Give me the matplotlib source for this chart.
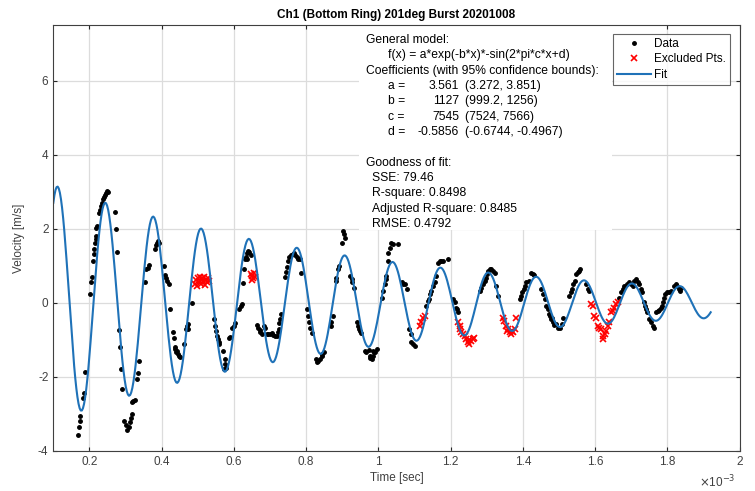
import numpy as np
import matplotlib.pyplot as plt

plt.rcParams['font.family'] = ['Liberation Sans', 'DejaVu Sans']
plt.rcParams['axes.unicode_minus'] = False

# time in ms (axis shows x 10^-3 s), velocity in m/s
data_t = [0.168, 0.171, 0.173, 0.175, 0.181, 0.184, 0.189,
          0.201, 0.205, 0.207, 0.209, 0.212, 0.214, 0.215, 0.218, 0.218, 0.219, 0.222, 0.226, 0.229,
          0.232, 0.235, 0.238, 0.241, 0.242, 0.246, 0.249, 0.252, 0.271, 0.273, 0.276,
          0.283, 0.286, 0.288, 0.291,
          0.297, 0.302, 0.305, 0.309, 0.311, 0.315, 0.317, 0.319, 0.322, 0.325, 0.332, 0.334, 0.338,
          0.355, 0.357, 0.361, 0.364, 0.381, 0.384, 0.387, 0.391, 0.394,
          0.407, 0.409, 0.413, 0.416, 0.419, 0.423,
          0.431, 0.433, 0.436, 0.438, 0.440, 0.442, 0.444, 0.448, 0.450,
          0.463, 0.467, 0.470, 0.473, 0.474, 0.485,
          0.546, 0.548, 0.550, 0.553, 0.555, 0.558, 0.560,
          0.571, 0.574, 0.576, 0.573, 0.578, 0.586, 0.590, 0.594, 0.599, 0.603,
          0.615, 0.619, 0.622, 0.626, 0.629, 0.631, 0.634, 0.636, 0.637, 0.640, 0.643, 0.647,
          0.665, 0.668, 0.671, 0.672, 0.677, 0.682, 0.686, 0.691, 0.695, 0.700, 0.705, 0.709,
          0.714, 0.718, 0.721, 0.724, 0.726, 0.728, 0.730,
          0.741, 0.744, 0.748, 0.751, 0.753, 0.757, 0.763, 0.766, 0.770, 0.774, 0.778, 0.783, 0.787,
          0.803, 0.806, 0.809, 0.812, 0.816,
          0.827, 0.831, 0.834, 0.838, 0.843, 0.845, 0.849,
          0.868, 0.870, 0.873, 0.882, 0.884, 0.887, 0.892,
          0.898, 0.901, 0.904, 0.907,
          0.921, 0.926, 0.928, 0.932, 0.941, 0.944, 0.947, 0.949, 0.951,
          0.962, 0.967, 0.974, 0.976, 0.978, 0.981, 0.984, 0.987, 0.985, 0.990, 0.995,
          1.011, 1.013, 1.018, 1.020, 1.022, 1.027, 1.027, 1.031, 1.036, 1.041, 1.055,
          1.064, 1.068, 1.073, 1.078,
          1.085, 1.089, 1.091, 1.096, 1.101,
          1.133, 1.136, 1.140, 1.142, 1.147, 1.151, 1.156, 1.160, 1.165, 1.170, 1.174, 1.179, 1.193,
          1.206, 1.211, 1.214, 1.218, 1.220,
          1.280, 1.285, 1.289, 1.294, 1.297, 1.300, 1.303, 1.308, 1.312, 1.317, 1.322, 1.326, 1.331,
          1.391, 1.395, 1.398, 1.402, 1.405, 1.409, 1.416, 1.423, 1.427, 1.432,
          1.450, 1.455, 1.460, 1.464, 1.469, 1.473, 1.476, 1.479, 1.481, 1.483, 1.487, 1.492,
          1.497, 1.503, 1.509, 1.512,
          1.529, 1.533, 1.536, 1.540, 1.544, 1.547, 1.552, 1.555, 1.558,
          1.575, 1.579, 1.584,
          1.667, 1.672, 1.676, 1.681, 1.687, 1.693, 1.699, 1.704, 1.708, 1.713, 1.718, 1.722, 1.727, 1.731,
          1.736, 1.739, 1.741, 1.745, 1.750, 1.754, 1.759, 1.762,
          1.768, 1.773, 1.777, 1.782, 1.785, 1.788, 1.791, 1.794, 1.798, 1.805, 1.810, 1.819, 1.823,
          1.828, 1.831, 1.835, 1.837]
data_v = [-3.57, -3.36, -3.20, -3.05, -2.57, -2.43, -1.88,
          0.23, 0.56, 0.71, 1.13, 1.33, 1.46, 1.62, 1.73, 1.80, 2.03, 2.07, 2.43, 2.50,
          2.61, 2.70, 2.79, 2.86, 2.92, 2.97, 3.01, 2.99, 2.45, 2.00, 1.37,
          -0.73, -1.20, -1.79, -2.33,
          -3.18, -3.30, -3.42, -3.36, -3.22, -3.11, -3.00, -2.68, -2.64, -2.62, -2.06, -1.90, -1.56,
          0.55, 0.90, 0.95, 1.01, 1.46, 1.55, 1.62, 1.67, 1.62,
          0.99, 0.74, 0.68, 0.59, 0.50, -0.17,
          -0.80, -0.94, -1.20, -1.25, -1.34, -1.29, -1.38, -1.43, -1.47,
          -1.11, -0.71, -0.62, -0.58, -0.71, -0.01,
          -0.44, -0.62, -0.76, -0.89, -0.98, -1.05, -1.11,
          -1.29, -1.52, -1.65, -1.79, -1.77, -0.96, -0.93, -0.69, -0.62, -0.55,
          -0.17, -0.08, -0.04, 0.53, 0.90, 1.17, 1.25, 1.17, 1.35, 1.40, 1.37, 1.28,
          -0.60, -0.67, -0.73, -0.80, -0.85, -0.62, -0.67, -0.83, -0.85, -0.85, -0.82, -0.87,
          -0.89, -0.89, -0.80, -0.71, -0.55, -0.44, -0.31,
          0.71, 0.84, 0.98, 1.13, 1.25, 1.28, 1.31, 1.34, 1.28, 1.25, 1.17, 1.17, 0.80,
          -0.17, -0.35, -0.53, -0.67, -0.82,
          -1.52, -1.59, -1.56, -1.52, -1.43, -1.38, -1.34,
          -0.62, -0.53, -0.35, 0.59, 0.68, 0.90, 0.99,
          1.62, 1.94, 1.85, 1.76,
          0.73, 0.64, 0.55, 0.41, -0.53, -0.62, -0.71, -0.76, -0.82,
          -1.29, -1.34, -1.27, -1.50, -1.43, -1.52, -1.29, -1.34, -1.43, -1.34, -1.25,
          0.14, 0.32, 0.50, 0.63, 0.72, 1.13, 1.35, 1.49, 1.62, 1.58, 1.58,
          0.55, 0.50, 0.50, 0.37,
          -0.71, -0.85, -1.07, -1.11, -1.16,
          -0.08, 0.05, 0.10, 0.23, 0.32, 0.46, 0.55, 0.72, 1.08, 1.13, 1.13, 1.13, 1.17,
          0.10, 0.01, -0.13, -0.17, -0.26,
          0.32, 0.41, 0.50, 0.59, 0.68, 0.77, 0.86, 0.90, 0.92, 0.86, 0.81, 0.46, 0.19,
          0.10, 0.19, 0.28, 0.37, 0.46, 0.55, 0.59, 0.81, 0.77, 0.74,
          0.37, 0.23, 0.10, -0.08, -0.17, -0.31, -0.35, -0.44, -0.40, -0.53, -0.60, -0.58,
          -0.67, -0.69, -0.58, -0.40,
          0.19, 0.28, 0.37, 0.50, 0.59, 0.77, 0.82, 0.86, 0.90,
          0.50, 0.37, 0.32,
          0.14, 0.28, 0.37, 0.46, 0.50, 0.55, 0.50, 0.46, 0.59, 0.64, 0.56, 0.50, 0.37, 0.28,
          0.01, -0.08, -0.17, -0.26, -0.44, -0.53, -0.62, -0.67,
          -0.26, -0.22, -0.19, -0.13, -0.08, 0.01, 0.14, 0.23, 0.28, 0.28, 0.32, 0.46, 0.50,
          0.46, 0.37, 0.32, 0.39]

excl_t = [0.492, 0.495, 0.498, 0.500, 0.503, 0.505, 0.507, 0.510, 0.512, 0.515, 0.518, 0.520,
          0.523, 0.526, 0.528, 0.531,
          0.646, 0.649, 0.651, 0.653, 0.655, 0.658,
          1.114, 1.119, 1.124, 1.128,
          1.220, 1.225, 1.227, 1.229, 1.234, 1.239, 1.243, 1.248, 1.251, 1.252, 1.257, 1.262, 1.266,
          1.345, 1.349, 1.354, 1.356, 1.358, 1.363, 1.368, 1.370, 1.372, 1.377, 1.380,
          1.589, 1.593, 1.598, 1.602, 1.607, 1.612, 1.616, 1.621, 1.623, 1.626, 1.630, 1.635,
          1.639, 1.644, 1.649, 1.653, 1.658, 1.662]
excl_v = [0.52, 0.62, 0.45, 0.68, 0.55, 0.70, 0.60, 0.50, 0.66, 0.58, 0.69, 0.48,
          0.62, 0.55, 0.67, 0.60,
          0.78, 0.62, 0.72, 0.66, 0.80, 0.70,
          -0.62, -0.53, -0.40, -0.35,
          -0.53, -0.62, -0.71, -0.80, -0.85, -0.89, -0.98, -1.07, -1.00, -1.11, -1.03, -0.98, -0.94,
          -0.40, -0.49, -0.62, -0.76, -0.71, -0.80, -0.85, -0.76, -0.80, -0.71, -0.40,
          -0.04, -0.08, -0.35, -0.40, -0.62, -0.67, -0.71, -0.89, -0.98, -0.85, -0.76, -0.62,
          -0.53, -0.26, -0.22, -0.13, -0.04, 0.01]

# fit coefficients (shown in the box)
coef_names = ['a', 'b', 'c', 'd']
coef_vals = ['3.561', '1127', '7545', '-0.5856']
coef_bounds = ['(3.272, 3.851)', '(999.2, 1256)', '(7524, 7566)', '(-0.6744, -0.4967)']
a, b, c, d = 3.561, 1127, 7545, -0.5856
fit_t = np.linspace(0.1, 1.92, 600)
ts = fit_t * 1e-3
fit_v = a * np.exp(-b * ts) * -np.sin(2 * np.pi * c * ts + d)

xticks = [0.2, 0.4, 0.6, 0.8, 1.0, 1.2, 1.4, 1.6, 1.8, 2.0]
xticklabels = ['0.2', '0.4', '0.6', '0.8', '1', '1.2', '1.4', '1.6', '1.8', '2']
yticks = [-4, -2, 0, 2, 4, 6]

grey = '#404040'
W, H = 755, 491
fig = plt.figure(figsize=(7.55, 4.91), dpi=100)
ax = fig.add_axes([0.0706, 0.0815, 0.909, 0.8675])

ax.plot(data_t, data_v, '.', color='k', markersize=5, label='Data')
ax.plot(excl_t, excl_v, 'x', color='r', markersize=4, markeredgewidth=1.2, label='Excluded Pts.')
ax.plot(fit_t, fit_v, '-', color='#1f72b8', linewidth=1.5, label='Fit')

ax.set_xlim(0.1, 2.0)
ax.set_ylim(-4, 7.5)
ax.set_xticks(xticks)
ax.set_xticklabels(xticklabels)
ax.set_yticks(yticks)
ax.grid(True, color='#dcdcdc', linewidth=0.9)
ax.set_axisbelow(True)
ax.tick_params(direction='in', top=True, right=True, colors='#262626', labelcolor=grey,
               labelsize=8.5, length=3)
for s in ax.spines.values():
    s.set_color(grey)
    s.set_linewidth(0.8)

ax.set_title('Ch1 (Bottom Ring) 201deg Burst 20201008', fontsize=8.5, fontweight='bold', pad=5)
ax.set_xlabel('Time [sec]', fontsize=8.5, color=grey, labelpad=3)
ax.set_ylabel('Velocity [m/s]', fontsize=8.5, color=grey, labelpad=9)
fig.text(717 / W, 1 - 482 / H, r'$\times$10$^{-3}$', fontsize=8.5, color=grey,
         ha='center', va='center')

# white area behind the results text (under the legend)
box = plt.Rectangle((359 / W, 1 - 230 / H), (612 - 359) / W, (230 - 26) / H,
                    transform=fig.transFigure, facecolor='white', edgecolor='none', zorder=2.5)
ax.add_patch(box)

def put(px, py, s, ha='left'):
    fig.text(px / W, 1 - py / H, s, fontsize=8.7, color='k', va='center', ha=ha, zorder=3)

put(366, 40, 'General model:')
put(388, 55, 'f(x) = a*exp(-b*x)*-sin(2*pi*c*x+d)')
put(366, 71, 'Coefficients (with 95% confidence bounds):')
for i in range(4):
    row_y = 86 + i * 15.4
    put(388, row_y, coef_names[i] + ' =')
    put(459, row_y, coef_vals[i], ha='right')
    put(465, row_y, coef_bounds[i])
put(366, 163, 'Goodness of fit:')
put(372, 178, 'SSE: 79.46')
put(372, 193, 'R-square: 0.8498')
put(372, 209, 'Adjusted R-square: 0.8485')
put(372, 224, 'RMSE: 0.4792')

ax_w, ax_h = 739.5 - 53.3, 451 - 25
leg = ax.legend(loc='upper right', fontsize=8.5, frameon=True, fancybox=False,
                edgecolor=grey, borderpad=0.35, labelspacing=0.28, handlelength=2.9,
                handletextpad=0.25, borderaxespad=0,
                bbox_to_anchor=((730 - 53.3) / ax_w, 1 - 9 / ax_h))
leg.get_frame().set_linewidth(0.8)
leg.set_zorder(5)

fig.savefig('out.png', dpi=100)
